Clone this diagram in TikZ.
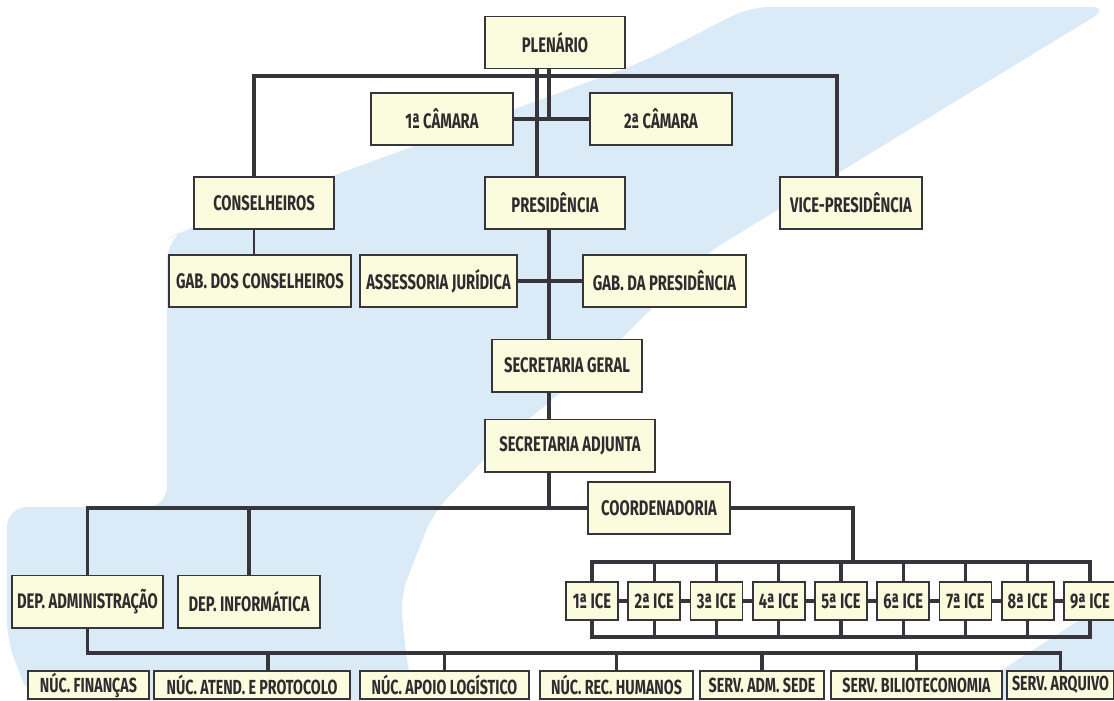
\documentclass[tikz,border=0pt]{standalone}
\usepackage{fontspec}
\newfontfamily\orgfont{Fira Sans}[FakeStretch=0.7]
\definecolor{boxfill}{RGB}{251,251,222}
\definecolor{linegray}{RGB}{55,53,60}
\definecolor{inkgray}{RGB}{45,45,48}
\definecolor{swoosh}{RGB}{218,234,246}

\tikzset{
  box/.style={draw=linegray, line width=1.4pt, fill=boxfill, inner sep=1pt,
    minimum height=1.3cm, text=inkgray, font=\orgfont\bfseries\fontsize{15}{16}\selectfont},
  icebox/.style={box, minimum width=1.3cm, minimum height=0.95cm},
  nucbox/.style={box, minimum height=0.7cm, font=\orgfont\bfseries\fontsize{14.5}{15}\selectfont},
  link/.style={draw=linegray, line width=2.3pt},
  thinlink/.style={draw=linegray, line width=1.2pt},
}

\begin{document}
\begin{tikzpicture}[x=0.025cm, y=-0.025cm]
    \useasboundingbox (0,0) rectangle (1114,700);
    % background swoosh
    \fill[swoosh, rounded corners=0.5cm] (750,7) -- (1110,7) -- (707,253) -- (600,360) -- (500,443)
        -- (433,513) -- (400,597) -- (407,663) -- (415,700) -- (30,700) -- (7,640) -- (7,507)
        -- (167,507) -- (167,240) -- (180,232) -- (640,63) -- cycle;
    \fill[swoosh] (1114,598) -- (1114,700) -- (955,700) -- cycle;

    % top
    \node[box, minimum width=3.5cm]  (plen)    at (555,42.5)  {PLENÁRIO};
    \node[box, minimum width=3.55cm] (cam1)    at (442,119)   {1ª CÂMARA};
    \node[box, minimum width=3.55cm] (cam2)    at (661,119)   {2ª CÂMARA};
    \node[box, minimum width=3.5cm]  (cons)    at (264,203)   {CONSELHEIROS};
    \node[box, minimum width=3.5cm]  (pres)    at (555,203)   {PRESIDÊNCIA};
    \node[box, minimum width=3.55cm] (vice)    at (851,203)   {VICE-PRESIDÊNCIA};
    \node[box, minimum width=4.55cm] (gabcons) at (260,281)   {GAB. DOS CONSELHEIROS};
    \node[box, minimum width=3.925cm] (assess) at (438.5,281) {ASSESSORIA JURÍDICA};
    \node[box, minimum width=4.075cm] (gabpres) at (664.5,281) {GAB. DA PRESIDÊNCIA};
    \node[box, minimum width=3.75cm] (secger)  at (567,365.5) {SECRETARIA GERAL};
    \node[box, minimum width=4.25cm] (secadj)  at (570,445.5) {SECRETARIA ADJUNTA};
    \node[box, minimum width=3.55cm] (coord)   at (659,508)   {COORDENADORIA};
    \node[box, minimum width=3.775cm] (depadm) at (87.5,601.5) {DEP. ADMINISTRAÇÃO};
    \node[box, minimum width=3.55cm] (depinf)  at (249,601.5) {DEP. INFORMÁTICA};

    % inspetorias
    \node[icebox] (ice1) at (592,601)     {1ª ICE};
    \node[icebox] (ice2) at (654.25,601)  {2ª ICE};
    \node[icebox] (ice3) at (716.5,601)   {3ª ICE};
    \node[icebox] (ice4) at (778.75,601)  {4ª ICE};
    \node[icebox] (ice5) at (841,601)     {5ª ICE};
    \node[icebox] (ice6) at (903.25,601)  {6ª ICE};
    \node[icebox] (ice7) at (965.5,601)   {7ª ICE};
    \node[icebox] (ice8) at (1027.75,601) {8ª ICE};
    \node[icebox] (ice9) at (1090,601)    {9ª ICE};

    % nucleos e servicos
    \node[nucbox, minimum width=3.025cm] (fin)     at (88.5,685)   {NÚC. FINANÇAS};
    \node[nucbox, minimum width=4.9cm]   (atend)   at (252,685)    {NÚC. ATEND. E PROTOCOLO};
    \node[nucbox, minimum width=4.225cm] (apoio)   at (444.5,685)  {NÚC. APOIO LOGÍSTICO};
    \node[nucbox, minimum width=3.825cm] (rechum)  at (616.5,685)  {NÚC. REC. HUMANOS};
    \node[nucbox, minimum width=3.1cm]   (sede)    at (762,685)    {SERV. ADM. SEDE};
    \node[nucbox, minimum width=4.275cm] (biblio)  at (916.5,685)  {SERV. BILIOTECONOMIA};
    \node[nucbox, minimum width=2.675cm] (arquivo) at (1060.5,685) {SERV. ARQUIVO};

    \coordinate (plenbus) at (254,76);
    \coordinate (vicebus) at (837,76);
    \coordinate (spineA) at (537,0);
    \coordinate (spineB) at (549,0);
    \coordinate (icedrop) at (853,562);
    \coordinate (icebot) at (0,637);
    \coordinate (nucbus) at (0,653);
    \coordinate (atenddrop) at ([xshift=0.4cm]atend.north);

    \draw[link] (cons.north -| plenbus) -- (plenbus) -- (vicebus) -- (vice.north -| vicebus);
    \draw[link] (plen.south -| spineA) -- (pres.north -| spineA);
    \draw[link] (plen.south -| spineB) -- (spineB |- cam1.east);
    \draw[link] (cam1.east) -- (cam2.west);
    \draw[thinlink] (cons.south -| plenbus) -- (gabcons.north -| plenbus);
    \draw[link] (assess.east) -- (gabpres.west);
    \draw[link] (pres.south -| spineB) -- (secger.north -| spineB);
    \draw[link] (secger.south -| spineB) -- (secadj.north -| spineB);
    \draw[link] (secadj.south -| spineB) |- (coord.west);
    \draw[link] (spineB |- coord.west) -| (depadm.north);
    \draw[link] (depinf.north) -- (depinf.north |- coord.west);

    % ICE buses
    \draw[link] (coord.east) -| (icedrop);
    \draw[link] (ice1.north) |- (icedrop) -| (ice9.north);
    \draw[link] (ice2.north) -- (ice2.north |- icedrop) (ice3.north) -- (ice3.north |- icedrop)
        (ice4.north) -- (ice4.north |- icedrop) (ice5.north) -- (ice5.north |- icedrop)
        (ice6.north) -- (ice6.north |- icedrop) (ice7.north) -- (ice7.north |- icedrop)
        (ice8.north) -- (ice8.north |- icedrop);
    \draw[link] (ice1.south) |- (ice9.south |- icebot) -- (ice9.south);
    \draw[link] (ice2.south) -- (ice2.south |- icebot) (ice3.south) -- (ice3.south |- icebot)
        (ice4.south) -- (ice4.south |- icebot) (ice5.south) -- (ice5.south |- icebot)
        (ice6.south) -- (ice6.south |- icebot) (ice7.south) -- (ice7.south |- icebot)
        (ice8.south) -- (ice8.south |- icebot);
    \draw[link] (ice1.east) -- (ice2.west) (ice2.east) -- (ice3.west) (ice3.east) -- (ice4.west)
        (ice4.east) -- (ice5.west) (ice5.east) -- (ice6.west) (ice6.east) -- (ice7.west)
        (ice7.east) -- (ice8.west) (ice8.east) -- (ice9.west);

    % bottom bus
    \draw[link] (depadm.south) |- (arquivo.north |- nucbus) -- (arquivo.north);
    \draw[link] (atenddrop) -- (atenddrop |- nucbus) (apoio.north) -- (apoio.north |- nucbus)
        (rechum.north) -- (rechum.north |- nucbus) (sede.north) -- (sede.north |- nucbus)
        (biblio.north) -- (biblio.north |- nucbus);
\end{tikzpicture}
\end{document}
